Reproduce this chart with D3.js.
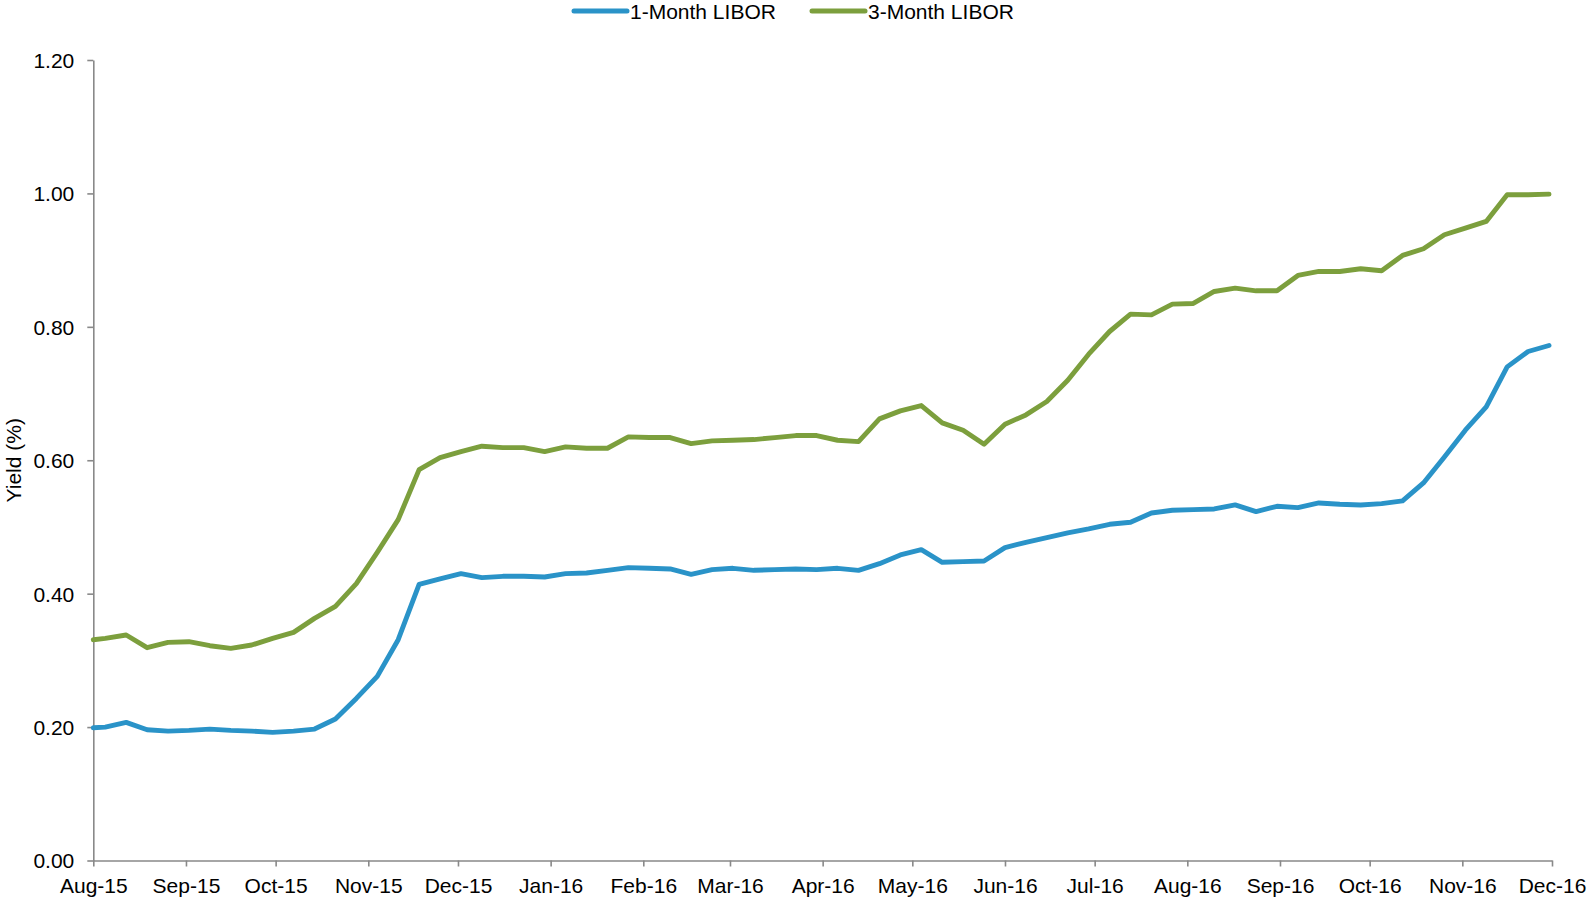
<!DOCTYPE html>
<html>
<head>
<meta charset="utf-8">
<script src="https://cdn.jsdelivr.net/npm/d3@7"></script>
<style>
    html, body { margin: 0; padding: 0; background: #fff; }
    svg text { font-family: "Liberation Sans", Arial, sans-serif; fill: #000; }
    .axis path, .axis line { stroke: #898989; stroke-width: 1.6; }
</style>
</head>
<body>
<div id="chart"></div>
<script>
(function () {

    // Data: first print on 1 Aug 2015, then weekly (Wednesdays) to 30 Nov 2016
    var firstDate = '2015-08-01';
    var weeklyStart = '2015-08-05';

    var oneMonth = [
        0.199, 0.200, 0.207, 0.196, 0.194, 0.195, 0.197, 0.195, 0.194, 0.192,
        0.194, 0.197, 0.212, 0.243, 0.276, 0.331, 0.414, 0.422, 0.430, 0.424,
        0.426, 0.426, 0.425, 0.430, 0.431, 0.435, 0.439, 0.438, 0.437, 0.429,
        0.436, 0.438, 0.435, 0.436, 0.437, 0.436, 0.438, 0.435, 0.445, 0.458,
        0.466, 0.447, 0.448, 0.449, 0.469, 0.477, 0.484, 0.491, 0.497, 0.504,
        0.507, 0.521, 0.525, 0.526, 0.527, 0.533, 0.523, 0.531, 0.529, 0.536,
        0.534, 0.533, 0.535, 0.539, 0.566, 0.605, 0.645, 0.680, 0.740, 0.763,
        0.772
    ];

    var threeMonth = [
        0.331, 0.333, 0.338, 0.319, 0.327, 0.328, 0.322, 0.318, 0.323, 0.333,
        0.342, 0.363, 0.381, 0.415, 0.462, 0.511, 0.586, 0.604, 0.613, 0.621,
        0.619, 0.619, 0.613, 0.620, 0.618, 0.618, 0.635, 0.634, 0.634, 0.625,
        0.629, 0.630, 0.631, 0.634, 0.637, 0.637, 0.630, 0.628, 0.662, 0.674,
        0.682, 0.656, 0.645, 0.624, 0.654, 0.668, 0.688, 0.720, 0.759, 0.793,
        0.819, 0.818, 0.834, 0.835, 0.853, 0.858, 0.854, 0.854, 0.877, 0.883,
        0.883, 0.887, 0.884, 0.907, 0.917, 0.938, 0.948, 0.958, 0.998, 0.998,
        0.999
    ];

    var seriesNames = ['1-Month LIBOR', '3-Month LIBOR'];
    var seriesColors = ['#2A93C8', '#7C9F3D'];
    var yTicks = [0, 0.2, 0.4, 0.6, 0.8, 1.0, 1.2];

    // build the date list
    var parse = d3.timeParse('%Y-%m-%d');
    var dates = [parse(firstDate)];
    var wk = parse(weeklyStart);
    for (var i = 1; i < oneMonth.length; i++) {
        dates.push(d3.timeWeek.offset(wk, i - 1));
    }

    var width = 1587, height = 898;
    var margin = { top: 60, right: 35, bottom: 37.5, left: 93.3 };

    var svg = d3.select('#chart')
        .append('svg')
        .attr('width', width)
        .attr('height', height);

    var x = d3.scaleTime()
        .domain([new Date(2015, 7, 1), new Date(2016, 11, 1)])
        .range([margin.left, width - margin.right]);

    var y = d3.scaleLinear()
        .domain([0, 1.2])
        .range([height - margin.bottom, margin.top]);

    // x axis
    var xAxis = svg.append('g')
        .attr('class', 'axis')
        .attr('transform', 'translate(0,' + y(0) + ')')
        .call(d3.axisBottom(x)
            .ticks(d3.timeMonth.every(1))
            .tickFormat(d3.timeFormat('%b-%y'))
            .tickSizeInner(6)
            .tickSizeOuter(0));
    xAxis.selectAll('text')
        .attr('dy', 0)
        .attr('y', 32)
        .style('font-size', '21px');

    // y axis
    var yAxis = svg.append('g')
        .attr('class', 'axis')
        .attr('transform', 'translate(' + x.range()[0] + ',0)')
        .call(d3.axisLeft(y)
            .tickValues(yTicks)
            .tickFormat(d3.format('.2f'))
            .tickSizeInner(6)
            .tickSizeOuter(0));
    yAxis.selectAll('text')
        .attr('x', -19)
        .attr('dy', '0.35em')
        .style('font-size', '21px');

    svg.selectAll('.axis text').style('fill', '#000');

    // y axis title
    svg.append('text')
        .attr('transform', 'translate(21,' + y(0.6) + ') rotate(-90)')
        .attr('text-anchor', 'middle')
        .style('font-size', '21px')
        .text('Yield (%)');

    // lines
    var line = d3.line()
        .x(function (d) { return x(d.date); })
        .y(function (d) { return y(d.value); });

    [oneMonth, threeMonth].forEach(function (vals, s) {
        var pts = vals.map(function (v, i) { return { date: dates[i], value: v }; });
        svg.append('path')
            .datum(pts)
            .attr('fill', 'none')
            .attr('stroke', seriesColors[s])
            .attr('stroke-width', 4.9)
            .attr('stroke-linejoin', 'round')
            .attr('stroke-linecap', 'round')
            .attr('d', line);
    });

    // legend
    var legendX = [574, 812];
    var legend = svg.append('g');
    seriesNames.forEach(function (name, s) {
        var g = legend.append('g').attr('transform', 'translate(' + legendX[s] + ',11)');
        g.append('line')
            .attr('x1', 0).attr('x2', 53)
            .attr('y1', 0).attr('y2', 0)
            .attr('stroke', seriesColors[s])
            .attr('stroke-width', 5)
            .attr('stroke-linecap', 'round');
        g.append('text')
            .attr('x', 56)
            .attr('y', 7.5)
            .style('font-size', '21px')
            .text(name);
    });

})();
</script>
</body>
</html>
